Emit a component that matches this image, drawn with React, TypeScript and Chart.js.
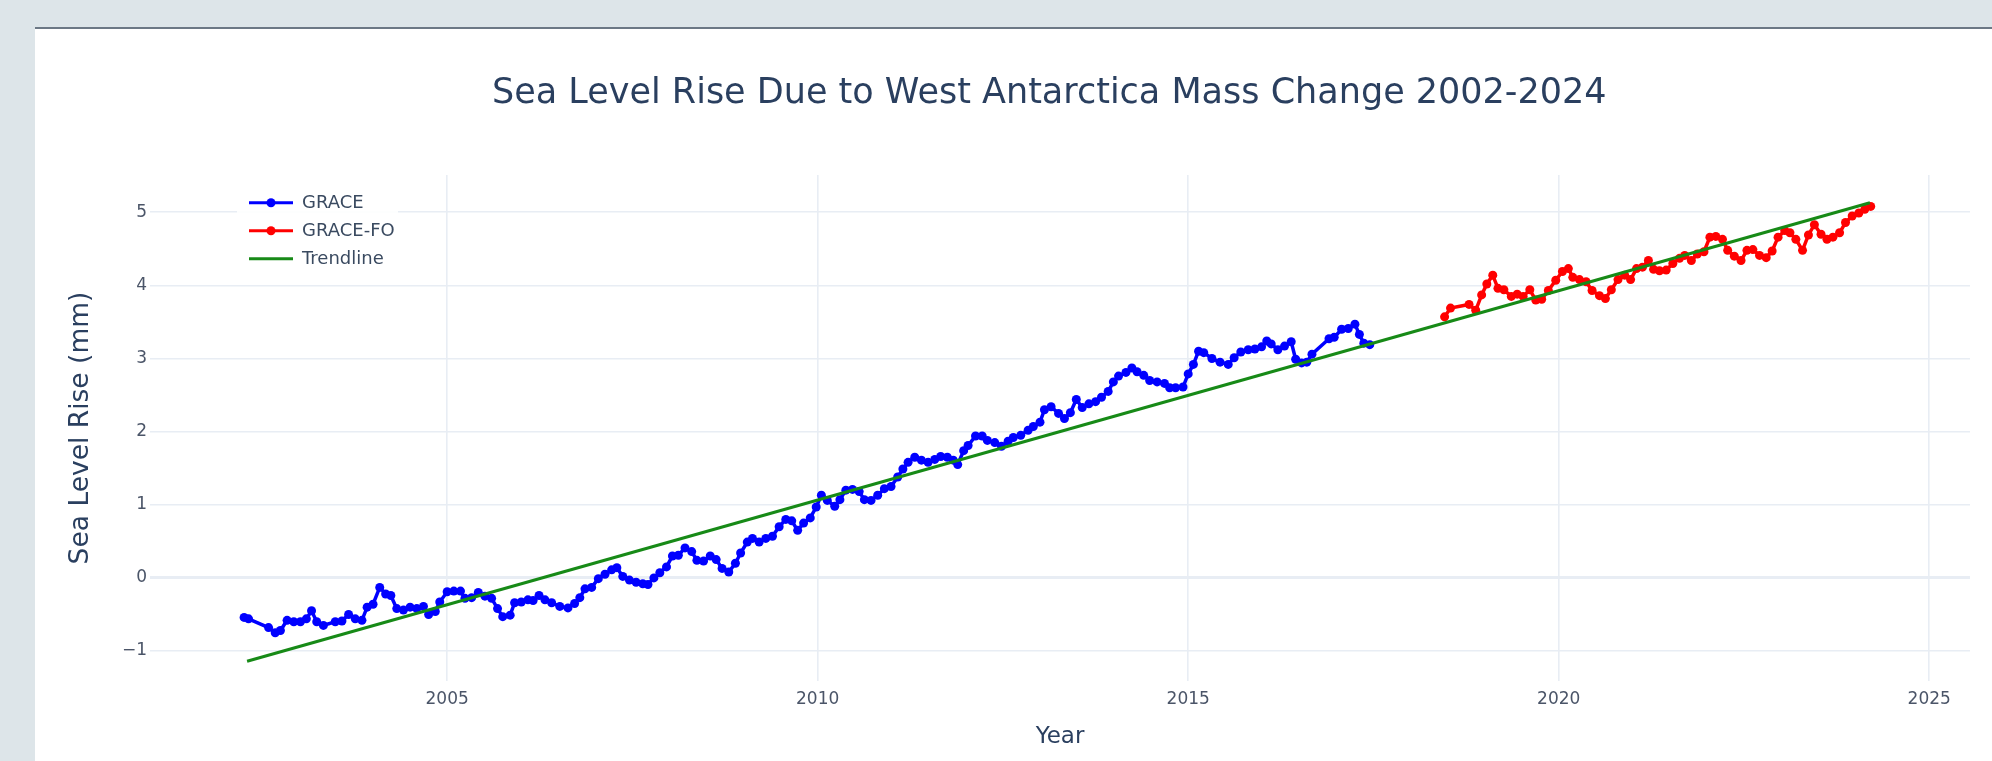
import { useEffect, useRef } from 'react';
import { Chart, registerables } from 'chart.js';

Chart.register(...registerables);

// ---- text ----
const chartTitle = 'Sea Level Rise Due to West Antarctica Mass Change 2002-2024';
const xAxisTitle = 'Year';
const yAxisTitle = 'Sea Level Rise (mm)';

// ---- GRACE (2002-2017), decimal year / mm ----
const graceYears = [
  2002.26, 2002.32, 2002.59, 2002.68, 2002.75, 2002.84, 2002.93, 2003.02, 2003.1, 2003.17,
  2003.24, 2003.33, 2003.49, 2003.58, 2003.67, 2003.76, 2003.85, 2003.92, 2004.0, 2004.09,
  2004.17, 2004.24, 2004.32, 2004.41, 2004.5, 2004.59, 2004.68, 2004.75, 2004.84, 2004.9,
  2005.0, 2005.09, 2005.18, 2005.24, 2005.33, 2005.42, 2005.51, 2005.6, 2005.68, 2005.75,
  2005.85, 2005.91, 2006.0, 2006.09, 2006.16, 2006.24, 2006.32, 2006.41, 2006.52, 2006.63,
  2006.72, 2006.79, 2006.86, 2006.95, 2007.04, 2007.13, 2007.22, 2007.29, 2007.37, 2007.46,
  2007.55, 2007.64, 2007.71, 2007.79, 2007.87, 2007.96, 2008.04, 2008.12, 2008.21, 2008.3,
  2008.37, 2008.46, 2008.55, 2008.63, 2008.71, 2008.8, 2008.89, 2008.96, 2009.05, 2009.12,
  2009.21, 2009.3, 2009.39, 2009.48, 2009.57, 2009.65, 2009.73, 2009.81, 2009.9, 2009.98,
  2010.05, 2010.13, 2010.23, 2010.3, 2010.38, 2010.47, 2010.56, 2010.63, 2010.72, 2010.81,
  2010.9, 2010.99, 2011.08, 2011.15, 2011.22, 2011.31, 2011.4, 2011.49, 2011.58, 2011.66,
  2011.75, 2011.83, 2011.89, 2011.97, 2012.03, 2012.13, 2012.22, 2012.29, 2012.39, 2012.48,
  2012.57, 2012.64, 2012.74, 2012.84, 2012.91, 2013.0, 2013.06, 2013.15, 2013.25, 2013.33,
  2013.41, 2013.49, 2013.57, 2013.66, 2013.75, 2013.83, 2013.92, 2013.99, 2014.06, 2014.16,
  2014.24, 2014.31, 2014.4, 2014.48, 2014.58, 2014.68, 2014.75, 2014.83, 2014.93, 2015.0,
  2015.07, 2015.14, 2015.21, 2015.32, 2015.43, 2015.54, 2015.62, 2015.71, 2015.81, 2015.9,
  2015.99, 2016.06, 2016.12, 2016.21, 2016.3, 2016.39, 2016.45, 2016.53, 2016.6, 2016.67,
  2016.9, 2016.97, 2017.07, 2017.16, 2017.25, 2017.31, 2017.37, 2017.45,
];
const graceValues = [
  -0.54, -0.56, -0.68, -0.75, -0.72, -0.58, -0.6, -0.6, -0.56, -0.45,
  -0.6, -0.65, -0.6, -0.59, -0.5, -0.56, -0.58, -0.4, -0.36, -0.13,
  -0.22, -0.24, -0.42, -0.44, -0.4, -0.42, -0.39, -0.5, -0.46, -0.33,
  -0.19, -0.18, -0.18, -0.28, -0.27, -0.2, -0.25, -0.28, -0.42, -0.53,
  -0.51, -0.34, -0.33, -0.3, -0.31, -0.24, -0.3, -0.34, -0.39, -0.41,
  -0.35, -0.27, -0.15, -0.13, -0.01, 0.05, 0.11, 0.14, 0.02, -0.03,
  -0.06, -0.08, -0.09, 0.0, 0.07, 0.15, 0.3, 0.31, 0.41, 0.36,
  0.24, 0.23, 0.3, 0.25, 0.13, 0.08, 0.2, 0.34, 0.49, 0.54,
  0.49, 0.54, 0.57, 0.7, 0.8, 0.78, 0.65, 0.75, 0.82, 0.97,
  1.13, 1.06, 0.98, 1.07, 1.2, 1.21, 1.18, 1.07, 1.06, 1.13,
  1.22, 1.25, 1.38, 1.49, 1.58, 1.65, 1.61, 1.58, 1.62, 1.66,
  1.65, 1.61, 1.55, 1.74, 1.81, 1.94, 1.94, 1.88, 1.85, 1.8,
  1.87, 1.92, 1.95, 2.02, 2.07, 2.13, 2.3, 2.34, 2.25, 2.18,
  2.26, 2.44, 2.33, 2.38, 2.41, 2.47, 2.55, 2.68, 2.76, 2.81,
  2.87, 2.82, 2.77, 2.7, 2.68, 2.66, 2.6, 2.6, 2.61, 2.79,
  2.92, 3.1, 3.08, 3.0, 2.95, 2.92, 3.01, 3.09, 3.12, 3.13,
  3.16, 3.24, 3.2, 3.12, 3.17, 3.23, 2.99, 2.94, 2.95, 3.06,
  3.27, 3.29, 3.4, 3.41, 3.47, 3.33, 3.21, 3.19,
];

// ---- GRACE-FO (2018-2024), decimal year / mm ----
const graceFoYears = [
  2018.46, 2018.54, 2018.79, 2018.88, 2018.96, 2019.03, 2019.11, 2019.18, 2019.26, 2019.36,
  2019.44, 2019.52, 2019.61, 2019.69, 2019.77, 2019.86, 2019.96, 2020.05, 2020.13, 2020.19,
  2020.28, 2020.37, 2020.45, 2020.55, 2020.63, 2020.71, 2020.8, 2020.89, 2020.97, 2021.05,
  2021.13, 2021.21, 2021.28, 2021.36, 2021.45, 2021.54, 2021.63, 2021.7, 2021.79, 2021.87,
  2021.96, 2022.04, 2022.12, 2022.21, 2022.28, 2022.37, 2022.46, 2022.54, 2022.62, 2022.71,
  2022.8, 2022.88, 2022.96, 2023.05, 2023.12, 2023.2, 2023.29, 2023.37, 2023.45, 2023.54,
  2023.62, 2023.7, 2023.79, 2023.87, 2023.96, 2024.05, 2024.13, 2024.21,
];
const graceFoValues = [
  3.57, 3.69, 3.74, 3.66, 3.87, 4.02, 4.14, 3.96, 3.94, 3.85,
  3.88, 3.85, 3.94, 3.8, 3.81, 3.93, 4.07, 4.19, 4.23, 4.11,
  4.08, 4.05, 3.93, 3.86, 3.82, 3.94, 4.08, 4.14, 4.08, 4.23,
  4.25, 4.34, 4.22, 4.2, 4.21, 4.3, 4.37, 4.41, 4.34, 4.43,
  4.46, 4.66, 4.67, 4.63, 4.48, 4.4, 4.34, 4.48, 4.49, 4.41,
  4.38, 4.47, 4.66, 4.75, 4.72, 4.63, 4.48, 4.69, 4.83, 4.7,
  4.63, 4.66, 4.72, 4.86, 4.95, 4.99, 5.04, 5.08,
];

// ---- linear trend ----
const trendYears = [2002.3, 2024.2];
const trendValues = [-1.14, 5.13];

// ---- axes ----
const xTickYears = [2005, 2010, 2015, 2020, 2025];
const yTickValues = [-1, 0, 1, 2, 3, 4, 5];
const xRange = [2000.99, 2025.55];
const yRange = [-1.41, 5.51];

const FONT = 'DejaVu Sans';
const TEXT = '#2a3f5f';
const TICK_TEXT = '#4b5568';
const GRID = '#e8edf4';

const toPoints = (xs: number[], ys: number[]) => xs.map((x, i) => ({ x, y: ys[i] }));
const minusSign = (v: number) => (v < 0 ? '\u2212' + Math.abs(v) : String(v));

// Heading text above the plot
const headingPlugin = {
  id: 'heading',
  afterDraw(chart: any) {
    const { ctx } = chart;
    ctx.save();
    ctx.font = `35px "${FONT}"`;
    ctx.fillStyle = TEXT;
    ctx.textAlign = 'left';
    ctx.textBaseline = 'alphabetic';
    ctx.fillText(chartTitle, 492, 102.7);
    ctx.restore();
  },
};

// Legend box drawn inside the top-left corner of the plot
const insideLegendPlugin = {
  id: 'insideLegend',
  afterDatasetsDraw(chart: any) {
    const { ctx, chartArea } = chart;
    const x0 = chartArea.left + 87;
    const y0 = chartArea.top + 3;
    ctx.save();
    ctx.fillStyle = 'rgba(255,255,255,0.9)';
    ctx.fillRect(x0, y0, 161, 92);
    chart.data.datasets.forEach((ds: any, i: number) => {
      const cy = y0 + 24.7 + i * 28;
      ctx.strokeStyle = ds.borderColor;
      ctx.lineWidth = 3;
      ctx.beginPath();
      ctx.moveTo(x0 + 12, cy);
      ctx.lineTo(x0 + 56, cy);
      ctx.stroke();
      if (ds.pointRadius > 0) {
        ctx.fillStyle = ds.borderColor;
        ctx.beginPath();
        ctx.arc(x0 + 34, cy, 4.5, 0, Math.PI * 2);
        ctx.fill();
      }
      ctx.fillStyle = '#3a4a60';
      ctx.font = `18px "${FONT}"`;
      ctx.textAlign = 'left';
      ctx.textBaseline = 'middle';
      ctx.fillText(ds.label, x0 + 65, cy + 1);
    });
    ctx.restore();
  },
};

export default function App() {
  const canvasRef = useRef<HTMLCanvasElement>(null);

  useEffect(() => {
    const canvas = canvasRef.current;
    if (!canvas) return;
    const chart = new Chart(canvas, {
      type: 'line',
      data: {
        datasets: [
          {
            label: 'GRACE',
            data: toPoints(graceYears, graceValues),
            borderColor: '#0000ff',
            backgroundColor: '#0000ff',
            pointBackgroundColor: '#0000ff',
            borderWidth: 3.5,
            pointRadius: 4.5,
            pointBorderWidth: 0,
            tension: 0,
            order: 1,
          },
          {
            label: 'GRACE-FO',
            data: toPoints(graceFoYears, graceFoValues),
            borderColor: '#ff0000',
            backgroundColor: '#ff0000',
            pointBackgroundColor: '#ff0000',
            borderWidth: 3.5,
            pointRadius: 4.5,
            pointBorderWidth: 0,
            tension: 0,
            order: 2,
          },
          {
            label: 'Trendline',
            data: toPoints(trendYears, trendValues),
            borderColor: '#178a17',
            backgroundColor: '#178a17',
            borderWidth: 3,
            pointRadius: 0,
            tension: 0,
            order: 0,
          },
        ],
      },
      options: {
        responsive: false,
        animation: false,
        devicePixelRatio: 1,
        events: [],
        layout: { padding: { left: 0, right: 22, top: 175, bottom: 0 } },
        plugins: {
          legend: { display: false },
          title: { display: false },
          tooltip: { enabled: false },
        },
        scales: {
          x: {
            type: 'linear',
            min: xRange[0],
            max: xRange[1],
            afterBuildTicks: (scale: any) => {
              scale.ticks = xTickYears.map((value) => ({ value }));
            },
            afterFit: (scale: any) => {
              scale.height = 80;
            },
            ticks: {
              callback: (v: any) => String(v),
              font: { family: FONT, size: 17 },
              color: TICK_TEXT,
              padding: 8,
              maxRotation: 0,
              minRotation: 0,
            },
            grid: { color: GRID, lineWidth: 1.6, drawTicks: false },
            border: { display: false },
            title: {
              display: true,
              text: xAxisTitle,
              font: { family: FONT, size: 23 },
              color: TEXT,
              padding: { top: 0, bottom: 10 },
            },
          },
          y: {
            type: 'linear',
            min: yRange[0],
            max: yRange[1],
            afterBuildTicks: (scale: any) => {
              scale.ticks = yTickValues.map((value) => ({ value }));
            },
            afterFit: (scale: any) => {
              scale.width = 150;
            },
            ticks: {
              callback: (v: any) => minusSign(Number(v)),
              font: { family: FONT, size: 17 },
              color: TICK_TEXT,
              padding: 3,
            },
            grid: {
              color: GRID,
              lineWidth: (c: any) => (c.tick && c.tick.value === 0 ? 3 : 1.6),
              drawTicks: false,
            },
            border: { display: false },
            title: {
              display: true,
              text: yAxisTitle,
              font: { family: FONT, size: 26.5 },
              color: TEXT,
              padding: { top: 65, bottom: 0 },
            },
          },
        },
      },
      plugins: [insideLegendPlugin, headingPlugin],
    } as any);
    return () => chart.destroy();
  }, []);

  return (
    <div
      style={{
        position: 'fixed',
        left: 0,
        top: 0,
        width: 1992,
        height: 761,
        background: '#dde5e9',
        overflow: 'hidden',
      }}
    >
      <div
        style={{
          position: 'absolute',
          left: 35,
          top: 27,
          right: 0,
          bottom: 0,
          background: '#ffffff',
          borderTop: '2px solid #6c7885',
        }}
      />
      <canvas
        ref={canvasRef}
        width={1992}
        height={761}
        style={{ position: 'absolute', left: 0, top: 0, width: 1992, height: 761 }}
      />
    </div>
  );
}
